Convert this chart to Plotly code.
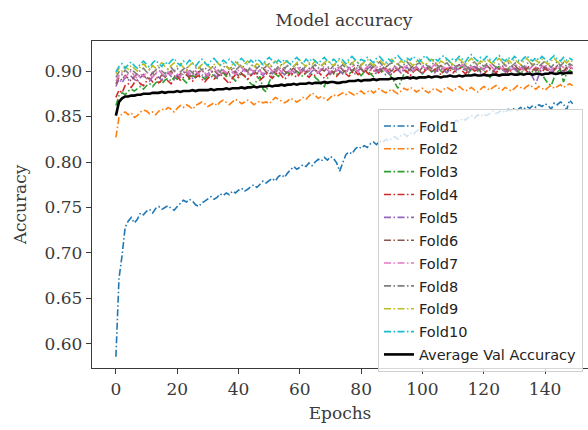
import plotly.graph_objects as go

epochs = list(range(150))

fold1 = [0.586, 0.672, 0.697, 0.728, 0.735, 0.739, 0.733, 0.737, 0.744, 0.742, 0.746, 0.748, 0.744, 0.749, 0.751,
         0.748, 0.750, 0.752, 0.749, 0.747, 0.751, 0.755, 0.758, 0.756, 0.759, 0.757, 0.753, 0.751, 0.755, 0.757,
         0.760, 0.762, 0.759, 0.761, 0.765, 0.763, 0.766, 0.764, 0.768, 0.766, 0.769, 0.771, 0.768, 0.770, 0.773,
         0.775, 0.772, 0.776, 0.779, 0.777, 0.780, 0.782, 0.779, 0.784, 0.786, 0.783, 0.788, 0.791, 0.795, 0.792,
         0.794, 0.797, 0.795, 0.799, 0.796, 0.800, 0.803, 0.801, 0.805, 0.802, 0.806, 0.804, 0.799, 0.790, 0.798,
         0.808, 0.811, 0.809, 0.814, 0.817, 0.815, 0.818, 0.816, 0.820, 0.822, 0.819, 0.823, 0.821, 0.825, 0.823,
         0.826, 0.828, 0.825, 0.829, 0.831, 0.828, 0.832, 0.830, 0.834, 0.836, 0.833, 0.837, 0.835, 0.839, 0.837,
         0.840, 0.842, 0.839, 0.843, 0.845, 0.842, 0.846, 0.844, 0.848, 0.846, 0.849, 0.851, 0.848, 0.852, 0.850,
         0.853, 0.851, 0.854, 0.856, 0.853, 0.855, 0.857, 0.854, 0.858, 0.856, 0.859, 0.857, 0.860, 0.858, 0.861,
         0.859, 0.862, 0.860, 0.863, 0.861, 0.864, 0.862, 0.858, 0.865, 0.863, 0.866, 0.864, 0.857, 0.868, 0.864]

fold2 = [0.827, 0.849, 0.853, 0.855, 0.852, 0.854, 0.849, 0.851, 0.855, 0.857, 0.856, 0.853, 0.855, 0.852, 0.856,
         0.858, 0.857, 0.860, 0.858, 0.855, 0.859, 0.862, 0.860, 0.863, 0.861, 0.858, 0.862, 0.864, 0.866, 0.864,
         0.861, 0.863, 0.865, 0.862, 0.866, 0.868, 0.865, 0.863, 0.866, 0.869, 0.867, 0.864, 0.866, 0.868, 0.866,
         0.863, 0.865, 0.867, 0.865, 0.866, 0.864, 0.868, 0.871, 0.869, 0.867, 0.865, 0.867, 0.870, 0.868, 0.866,
         0.868, 0.871, 0.869, 0.873, 0.876, 0.873, 0.870, 0.872, 0.870, 0.868, 0.871, 0.874, 0.872, 0.874, 0.876,
         0.874, 0.877, 0.875, 0.873, 0.876, 0.878, 0.875, 0.877, 0.879, 0.876, 0.879, 0.881, 0.878, 0.876, 0.878,
         0.880, 0.877, 0.875, 0.878, 0.881, 0.879, 0.882, 0.880, 0.877, 0.879, 0.881, 0.878, 0.876, 0.879, 0.881,
         0.879, 0.877, 0.880, 0.882, 0.880, 0.878, 0.881, 0.883, 0.880, 0.878, 0.880, 0.882, 0.879, 0.877, 0.880,
         0.883, 0.881, 0.879, 0.882, 0.884, 0.881, 0.879, 0.882, 0.880, 0.878, 0.881, 0.884, 0.882, 0.880, 0.883,
         0.885, 0.882, 0.880, 0.883, 0.881, 0.879, 0.882, 0.884, 0.881, 0.883, 0.885, 0.882, 0.884, 0.886, 0.884]

fold3 = [0.862, 0.873, 0.876, 0.874, 0.878, 0.880, 0.878, 0.881, 0.883, 0.880, 0.884, 0.886, 0.883, 0.887, 0.889,
         0.886, 0.890, 0.892, 0.889, 0.893, 0.891, 0.894, 0.890, 0.887, 0.892, 0.895, 0.893, 0.896, 0.894, 0.891,
         0.894, 0.897, 0.895, 0.892, 0.896, 0.898, 0.894, 0.897, 0.893, 0.889, 0.894, 0.897, 0.895, 0.891, 0.886,
         0.884, 0.890, 0.894, 0.880, 0.877, 0.888, 0.895, 0.897, 0.894, 0.898, 0.896, 0.899, 0.895, 0.897, 0.900,
         0.897, 0.894, 0.898, 0.900, 0.896, 0.893, 0.890, 0.885, 0.883, 0.892, 0.897, 0.899, 0.896, 0.900, 0.898,
         0.901, 0.897, 0.899, 0.902, 0.898, 0.895, 0.899, 0.901, 0.897, 0.894, 0.899, 0.902, 0.900, 0.896, 0.898,
         0.893, 0.887, 0.881, 0.890, 0.897, 0.900, 0.902, 0.899, 0.903, 0.900, 0.897, 0.901, 0.903, 0.899, 0.902,
         0.904, 0.900, 0.897, 0.901, 0.904, 0.902, 0.899, 0.903, 0.905, 0.901, 0.898, 0.902, 0.904, 0.900, 0.903,
         0.901, 0.897, 0.893, 0.899, 0.903, 0.905, 0.902, 0.899, 0.903, 0.901, 0.904, 0.900, 0.897, 0.901, 0.904,
         0.902, 0.899, 0.903, 0.900, 0.896, 0.891, 0.886, 0.884, 0.893, 0.899, 0.902, 0.888, 0.897, 0.901, 0.898]

fold4 = [0.871, 0.879, 0.876, 0.884, 0.886, 0.882, 0.887, 0.890, 0.886, 0.884, 0.889, 0.892, 0.888, 0.891, 0.887,
         0.890, 0.893, 0.889, 0.886, 0.891, 0.894, 0.890, 0.893, 0.896, 0.892, 0.889, 0.893, 0.895, 0.891, 0.888,
         0.892, 0.895, 0.891, 0.894, 0.897, 0.893, 0.890, 0.886, 0.892, 0.896, 0.893, 0.897, 0.894, 0.891, 0.895,
         0.898, 0.894, 0.890, 0.893, 0.897, 0.895, 0.892, 0.896, 0.899, 0.895, 0.891, 0.894, 0.898, 0.896, 0.893,
         0.897, 0.900, 0.896, 0.893, 0.897, 0.895, 0.899, 0.896, 0.892, 0.896, 0.899, 0.897, 0.894, 0.898, 0.901,
         0.897, 0.894, 0.898, 0.900, 0.896, 0.899, 0.902, 0.898, 0.895, 0.899, 0.901, 0.897, 0.900, 0.903, 0.899,
         0.896, 0.900, 0.902, 0.898, 0.901, 0.899, 0.895, 0.899, 0.902, 0.900, 0.897, 0.901, 0.903, 0.899, 0.902,
         0.900, 0.896, 0.900, 0.903, 0.901, 0.898, 0.902, 0.904, 0.900, 0.897, 0.901, 0.903, 0.900, 0.902, 0.899,
         0.896, 0.900, 0.903, 0.901, 0.898, 0.902, 0.904, 0.901, 0.898, 0.901, 0.903, 0.899, 0.902, 0.904, 0.900,
         0.897, 0.901, 0.904, 0.902, 0.899, 0.903, 0.900, 0.897, 0.901, 0.904, 0.902, 0.899, 0.902, 0.904, 0.901]

fold5 = [0.883, 0.891, 0.887, 0.893, 0.890, 0.894, 0.891, 0.888, 0.893, 0.896, 0.892, 0.889, 0.894, 0.897, 0.893,
         0.890, 0.895, 0.898, 0.894, 0.891, 0.896, 0.893, 0.897, 0.899, 0.895, 0.892, 0.896, 0.899, 0.896, 0.893,
         0.897, 0.900, 0.896, 0.893, 0.898, 0.901, 0.897, 0.894, 0.898, 0.900, 0.896, 0.899, 0.902, 0.898, 0.895,
         0.899, 0.902, 0.898, 0.895, 0.899, 0.901, 0.897, 0.900, 0.903, 0.899, 0.896, 0.900, 0.902, 0.899, 0.896,
         0.900, 0.903, 0.899, 0.896, 0.900, 0.902, 0.898, 0.901, 0.904, 0.900, 0.897, 0.901, 0.903, 0.900, 0.897,
         0.901, 0.904, 0.900, 0.897, 0.901, 0.903, 0.899, 0.902, 0.905, 0.901, 0.898, 0.902, 0.904, 0.900, 0.897,
         0.901, 0.904, 0.901, 0.898, 0.902, 0.904, 0.900, 0.903, 0.905, 0.901, 0.898, 0.902, 0.905, 0.901, 0.898,
         0.902, 0.904, 0.901, 0.898, 0.902, 0.905, 0.901, 0.903, 0.906, 0.902, 0.899, 0.903, 0.905, 0.901, 0.898,
         0.902, 0.905, 0.901, 0.899, 0.903, 0.905, 0.902, 0.899, 0.903, 0.906, 0.902, 0.899, 0.903, 0.905, 0.902,
         0.899, 0.893, 0.886, 0.896, 0.902, 0.905, 0.901, 0.898, 0.902, 0.905, 0.902, 0.899, 0.903, 0.905, 0.902]

fold6 = [0.886, 0.893, 0.890, 0.895, 0.892, 0.889, 0.894, 0.897, 0.893, 0.896, 0.891, 0.895, 0.898, 0.894, 0.891,
         0.896, 0.893, 0.897, 0.900, 0.895, 0.892, 0.897, 0.899, 0.896, 0.893, 0.898, 0.895, 0.899, 0.901, 0.897,
         0.894, 0.898, 0.901, 0.897, 0.895, 0.899, 0.896, 0.900, 0.902, 0.898, 0.895, 0.899, 0.902, 0.899, 0.896,
         0.900, 0.897, 0.901, 0.903, 0.899, 0.896, 0.900, 0.898, 0.902, 0.904, 0.900, 0.897, 0.901, 0.903, 0.899,
         0.897, 0.901, 0.899, 0.903, 0.905, 0.901, 0.898, 0.902, 0.900, 0.904, 0.901, 0.898, 0.902, 0.905, 0.901,
         0.899, 0.903, 0.900, 0.904, 0.906, 0.902, 0.899, 0.903, 0.901, 0.905, 0.902, 0.899, 0.903, 0.906, 0.902,
         0.900, 0.904, 0.901, 0.905, 0.903, 0.899, 0.903, 0.906, 0.902, 0.900, 0.904, 0.901, 0.905, 0.903, 0.900,
         0.904, 0.906, 0.902, 0.900, 0.904, 0.901, 0.905, 0.907, 0.903, 0.900, 0.904, 0.902, 0.906, 0.903, 0.900,
         0.904, 0.906, 0.903, 0.900, 0.904, 0.902, 0.906, 0.903, 0.900, 0.904, 0.907, 0.903, 0.901, 0.905, 0.902,
         0.906, 0.903, 0.900, 0.904, 0.907, 0.903, 0.901, 0.905, 0.902, 0.906, 0.903, 0.900, 0.904, 0.906, 0.903]

fold7 = [0.889, 0.895, 0.898, 0.893, 0.897, 0.900, 0.895, 0.892, 0.897, 0.894, 0.899, 0.896, 0.893, 0.898, 0.901,
         0.897, 0.894, 0.899, 0.896, 0.900, 0.897, 0.894, 0.899, 0.902, 0.898, 0.895, 0.900, 0.897, 0.901, 0.898,
         0.895, 0.900, 0.903, 0.899, 0.896, 0.901, 0.898, 0.902, 0.899, 0.896, 0.901, 0.904, 0.900, 0.897, 0.902,
         0.899, 0.903, 0.900, 0.897, 0.902, 0.904, 0.900, 0.898, 0.902, 0.899, 0.903, 0.901, 0.898, 0.902, 0.905,
         0.901, 0.898, 0.902, 0.900, 0.904, 0.901, 0.898, 0.903, 0.905, 0.901, 0.899, 0.903, 0.900, 0.904, 0.902,
         0.899, 0.903, 0.906, 0.902, 0.899, 0.904, 0.901, 0.905, 0.902, 0.899, 0.904, 0.906, 0.902, 0.900, 0.904,
         0.901, 0.905, 0.903, 0.900, 0.904, 0.906, 0.902, 0.900, 0.904, 0.901, 0.905, 0.903, 0.900, 0.904, 0.907,
         0.903, 0.900, 0.904, 0.902, 0.906, 0.903, 0.900, 0.904, 0.907, 0.903, 0.901, 0.905, 0.902, 0.906, 0.904,
         0.901, 0.905, 0.907, 0.903, 0.901, 0.905, 0.902, 0.906, 0.904, 0.901, 0.905, 0.907, 0.903, 0.901, 0.905,
         0.902, 0.906, 0.904, 0.901, 0.905, 0.907, 0.903, 0.901, 0.905, 0.903, 0.906, 0.904, 0.901, 0.905, 0.903]

fold8 = [0.893, 0.899, 0.896, 0.901, 0.898, 0.902, 0.899, 0.896, 0.901, 0.903, 0.899, 0.902, 0.898, 0.901, 0.904,
         0.900, 0.897, 0.902, 0.904, 0.900, 0.903, 0.899, 0.902, 0.905, 0.901, 0.898, 0.903, 0.905, 0.901, 0.904,
         0.900, 0.903, 0.906, 0.902, 0.899, 0.904, 0.906, 0.902, 0.905, 0.901, 0.904, 0.907, 0.903, 0.900, 0.905,
         0.907, 0.903, 0.906, 0.902, 0.905, 0.908, 0.904, 0.901, 0.905, 0.907, 0.903, 0.906, 0.902, 0.905, 0.908,
         0.904, 0.901, 0.906, 0.908, 0.904, 0.907, 0.903, 0.906, 0.909, 0.905, 0.902, 0.906, 0.908, 0.904, 0.907,
         0.903, 0.906, 0.909, 0.905, 0.902, 0.907, 0.909, 0.905, 0.908, 0.904, 0.907, 0.910, 0.906, 0.903, 0.907,
         0.909, 0.905, 0.908, 0.904, 0.907, 0.910, 0.906, 0.903, 0.907, 0.909, 0.905, 0.908, 0.904, 0.907, 0.910,
         0.906, 0.903, 0.907, 0.909, 0.905, 0.908, 0.904, 0.907, 0.910, 0.906, 0.903, 0.908, 0.910, 0.906, 0.909,
         0.905, 0.908, 0.911, 0.907, 0.904, 0.908, 0.910, 0.906, 0.909, 0.905, 0.908, 0.911, 0.907, 0.904, 0.908,
         0.910, 0.906, 0.909, 0.905, 0.908, 0.911, 0.907, 0.904, 0.908, 0.910, 0.906, 0.909, 0.905, 0.908, 0.906]

fold9 = [0.897, 0.903, 0.900, 0.905, 0.902, 0.906, 0.903, 0.900, 0.905, 0.908, 0.904, 0.901, 0.906, 0.903, 0.907,
         0.909, 0.905, 0.902, 0.906, 0.909, 0.905, 0.908, 0.904, 0.901, 0.906, 0.909, 0.906, 0.903, 0.907, 0.910,
         0.906, 0.903, 0.907, 0.910, 0.906, 0.909, 0.905, 0.902, 0.907, 0.910, 0.907, 0.904, 0.908, 0.911, 0.907,
         0.904, 0.908, 0.906, 0.910, 0.907, 0.904, 0.908, 0.911, 0.907, 0.905, 0.909, 0.911, 0.908, 0.905, 0.909,
         0.912, 0.908, 0.905, 0.909, 0.907, 0.911, 0.908, 0.905, 0.909, 0.912, 0.908, 0.906, 0.910, 0.912, 0.909,
         0.906, 0.910, 0.908, 0.912, 0.909, 0.906, 0.910, 0.913, 0.909, 0.906, 0.910, 0.912, 0.909, 0.906, 0.910,
         0.913, 0.909, 0.907, 0.911, 0.909, 0.912, 0.909, 0.906, 0.910, 0.913, 0.909, 0.907, 0.911, 0.913, 0.909,
         0.907, 0.911, 0.909, 0.913, 0.910, 0.907, 0.911, 0.913, 0.910, 0.907, 0.911, 0.914, 0.910, 0.907, 0.911,
         0.909, 0.913, 0.910, 0.907, 0.911, 0.914, 0.910, 0.908, 0.912, 0.909, 0.913, 0.910, 0.907, 0.911, 0.914,
         0.910, 0.908, 0.912, 0.909, 0.913, 0.910, 0.907, 0.911, 0.914, 0.910, 0.908, 0.912, 0.909, 0.912, 0.910]

fold10 = [0.899, 0.905, 0.908, 0.903, 0.907, 0.910, 0.906, 0.903, 0.908, 0.911, 0.907, 0.904, 0.909, 0.912, 0.908,
          0.905, 0.910, 0.907, 0.911, 0.914, 0.909, 0.906, 0.911, 0.908, 0.912, 0.909, 0.905, 0.910, 0.913, 0.909,
          0.906, 0.911, 0.914, 0.910, 0.907, 0.912, 0.909, 0.913, 0.910, 0.906, 0.911, 0.914, 0.910, 0.907, 0.912,
          0.909, 0.913, 0.911, 0.907, 0.912, 0.915, 0.911, 0.908, 0.912, 0.909, 0.913, 0.910, 0.907, 0.912, 0.915,
          0.911, 0.908, 0.913, 0.910, 0.914, 0.911, 0.908, 0.912, 0.915, 0.911, 0.909, 0.913, 0.910, 0.914, 0.912,
          0.908, 0.913, 0.916, 0.912, 0.909, 0.913, 0.911, 0.915, 0.912, 0.909, 0.914, 0.916, 0.912, 0.909, 0.913,
          0.910, 0.914, 0.917, 0.913, 0.910, 0.914, 0.912, 0.916, 0.913, 0.910, 0.914, 0.917, 0.913, 0.910, 0.914,
          0.911, 0.915, 0.917, 0.913, 0.910, 0.914, 0.912, 0.916, 0.913, 0.910, 0.915, 0.918, 0.914, 0.911, 0.915,
          0.912, 0.916, 0.913, 0.910, 0.914, 0.917, 0.913, 0.911, 0.915, 0.912, 0.916, 0.913, 0.910, 0.914, 0.917,
          0.913, 0.911, 0.915, 0.912, 0.916, 0.913, 0.910, 0.914, 0.917, 0.913, 0.911, 0.915, 0.912, 0.914, 0.912]

average = [0.851, 0.866, 0.870, 0.872, 0.872, 0.873, 0.873, 0.874, 0.874, 0.875, 0.875, 0.875, 0.876, 0.876, 0.876,
           0.877, 0.876, 0.877, 0.877, 0.877, 0.878, 0.877, 0.878, 0.878, 0.878, 0.879, 0.878, 0.879, 0.879, 0.879,
           0.879, 0.880, 0.879, 0.880, 0.880, 0.880, 0.881, 0.880, 0.881, 0.881, 0.881, 0.882, 0.881, 0.882, 0.882,
           0.883, 0.882, 0.883, 0.883, 0.883, 0.884, 0.883, 0.884, 0.884, 0.885, 0.884, 0.885, 0.885, 0.886, 0.885,
           0.886, 0.886, 0.886, 0.887, 0.886, 0.887, 0.887, 0.887, 0.888, 0.887, 0.888, 0.888, 0.887, 0.887, 0.888,
           0.888, 0.889, 0.889, 0.889, 0.890, 0.889, 0.890, 0.890, 0.890, 0.891, 0.890, 0.891, 0.891, 0.891, 0.891,
           0.892, 0.891, 0.892, 0.892, 0.892, 0.893, 0.892, 0.893, 0.892, 0.893, 0.893, 0.893, 0.894, 0.893, 0.894,
           0.894, 0.893, 0.894, 0.894, 0.895, 0.894, 0.894, 0.895, 0.894, 0.895, 0.895, 0.895, 0.896, 0.895, 0.895,
           0.896, 0.895, 0.895, 0.896, 0.896, 0.895, 0.896, 0.896, 0.896, 0.897, 0.896, 0.896, 0.897, 0.896, 0.897,
           0.897, 0.896, 0.897, 0.897, 0.896, 0.897, 0.897, 0.898, 0.897, 0.897, 0.898, 0.897, 0.898, 0.898, 0.898]

fold_names = ["Fold1", "Fold2", "Fold3", "Fold4", "Fold5", "Fold6", "Fold7", "Fold8", "Fold9", "Fold10"]
fold_values = [fold1, fold2, fold3, fold4, fold5, fold6, fold7, fold8, fold9, fold10]
fold_colors = ["#1f77b4", "#ff7f0e", "#2ca02c", "#d62728", "#9467bd",
               "#8c564b", "#e377c2", "#7f7f7f", "#bcbd22", "#17becf"]

x_ticks = [0, 20, 40, 60, 80, 100, 120, 140]
y_ticks = [0.60, 0.65, 0.70, 0.75, 0.80, 0.85, 0.90]

TEXT = "#3a3a3a"
SERIF = "DejaVu Serif"

fig = go.Figure()
for name, vals, col in zip(fold_names, fold_values, fold_colors):
    fig.add_trace(go.Scatter(
        x=epochs[:len(vals)], y=vals, mode="lines", name=name, legendgroup=name,
        line=dict(color=col, width=1.6, dash="7px,2.5px,1.5px,2.5px"),
    ))
fig.add_trace(go.Scatter(
    x=epochs[:len(average)], y=average, mode="lines", name="Average Val Accuracy",
    legendgroup="avg", line=dict(color="black", width=2.6),
))

fig.update_layout(
    width=588, height=430,
    margin=dict(l=92, r=0, t=41, b=62, autoexpand=False),
    paper_bgcolor="white", plot_bgcolor="white",
    title=dict(text="Model accuracy", x=344 / 588, xanchor="center",
               y=1 - 20 / 430, yanchor="middle",
               font=dict(family=SERIF, size=17, color=TEXT)),
    showlegend=True,
    legend=dict(x=(378 - 92) / 496, y=(368 - 109) / 327, xanchor="left", yanchor="top",
                bgcolor="rgba(255,255,255,0.8)", bordercolor="#d0d0d0", borderwidth=1,
                font=dict(family="DejaVu Sans", size=14.5, color="#222"),
                tracegroupgap=1, itemwidth=30),
)
fig.update_xaxes(
    range=[-7.8, 154.0], tickvals=x_ticks, ticks="outside", ticklen=5, tickwidth=1.2,
    tickcolor=TEXT, showline=True, linecolor=TEXT, linewidth=1.3, mirror=True,
    showgrid=False, zeroline=False, automargin=False,
    tickfont=dict(family=SERIF, size=17, color=TEXT),
    title=dict(text="Epochs", font=dict(family=SERIF, size=17, color=TEXT), standoff=9),
)
fig.update_yaxes(
    range=[0.5736, 0.933], tickvals=y_ticks, tickformat=".2f", ticks="outside", ticklen=5,
    tickwidth=1.2, tickcolor=TEXT, showline=True, linecolor=TEXT, linewidth=1.3,
    showgrid=False, zeroline=False, automargin=False,
    tickfont=dict(family=SERIF, size=17, color=TEXT),
    title=dict(text="Accuracy", font=dict(family=SERIF, size=17, color=TEXT), standoff=13),
)

fig.write_html("out.html", config={"displayModeBar": False},
               post_script="document.body.style.margin='0';")
